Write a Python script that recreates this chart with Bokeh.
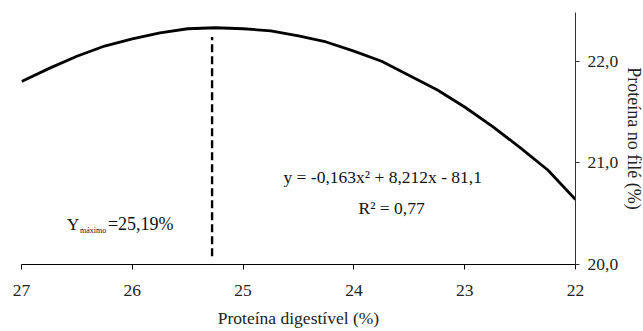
from bokeh.plotting import figure
from bokeh.models import Range1d, FixedTicker, Label
from bokeh.embed import file_html
from bokeh.resources import INLINE

# Data
x_dig = [27.0, 26.75, 26.5, 26.25, 26.0, 25.75, 25.5, 25.25, 25.0, 24.75, 24.5,
         24.25, 24.0, 23.75, 23.5, 23.25, 23.0, 22.75, 22.5, 22.25, 22.0]
y_file = [21.80, 21.93, 22.05, 22.15, 22.22, 22.28, 22.32, 22.33, 22.32, 22.30, 22.25,
          22.19, 22.10, 22.00, 21.86, 21.72, 21.55, 21.36, 21.15, 20.93, 20.64]
x_max = 25.28
y_dash = [20.08, 22.24]
x_ticks = [27, 26, 25, 24, 23, 22]
y_ticks = [20, 21, 22]
y_tick_labels = {20: "20,0", 21: "21,0", 22: "22,0"}
eq_text = "y = -0,163x\u00b2 + 8,212x - 81,1"
r2_text = "R\u00b2 = 0,77"

FONT = "Liberation Serif"

p = figure(frame_width=554, frame_height=252, output_backend="svg", toolbar_location=None,
           x_range=Range1d(27, 22), y_range=Range1d(20, 22.48),
           y_axis_location="right", min_border_left=21, min_border_top=12,
           min_border_bottom=0, min_border_right=0)
p.outline_line_color = None
p.xgrid.visible = False
p.ygrid.visible = False
p.background_fill_color = "white"

p.line(x_dig, y_file, line_color="black", line_width=2.8)
p.line([x_max, x_max], y_dash, line_color="black", line_width=2.4, line_dash="8 4")

# axes
xa = p.xaxis[0]
xa.ticker = FixedTicker(ticks=x_ticks)
xa.major_tick_out = 5
xa.major_tick_in = 0
xa.minor_tick_out = 0
xa.minor_tick_in = 0
xa.major_label_standoff = 15
xa.major_label_text_font = FONT
xa.major_label_text_font_size = "17.5px"
xa.major_label_text_color = "#222222"
xa.axis_line_color = "black"
xa.major_tick_line_color = "black"
xa.axis_label = "Proteína digestível (%)"
xa.axis_label_text_font = FONT
xa.axis_label_text_font_size = "17.5px"
xa.axis_label_text_font_style = "normal"
xa.axis_label_text_color = "#222222"
xa.axis_label_standoff = 9

ya = p.yaxis[0]
ya.ticker = FixedTicker(ticks=y_ticks)
ya.major_label_overrides = y_tick_labels
ya.major_tick_out = 4
ya.major_tick_in = 0
ya.minor_tick_out = 0
ya.minor_tick_in = 0
ya.major_label_standoff = 8
ya.major_label_text_font = FONT
ya.major_label_text_font_size = "17.5px"
ya.major_label_text_color = "#222222"
ya.axis_line_color = "#333333"
ya.major_tick_line_color = "#333333"
ya.axis_label = "Proteína no filé (%)"
ya.axis_label_text_font = FONT
ya.axis_label_text_font_size = "18px"
ya.axis_label_text_font_style = "normal"
ya.axis_label_text_color = "#222222"
ya.axis_label_standoff = 3

# annotations
p.add_layout(Label(x=23.74, y=20.76, text=eq_text, text_align="center",
                   text_font=FONT, text_font_size="17.5px", text_color="#111111"))
p.add_layout(Label(x=23.66, y=20.46, text=r2_text, text_align="center",
                   text_font=FONT, text_font_size="17.5px", text_color="#111111"))
p.add_layout(Label(x=26.59, y=20.30, text="Y", text_align="left",
                   text_font=FONT, text_font_size="17px", text_color="#111111"))
p.add_layout(Label(x=26.59, y=20.30, x_offset=13, y_offset=-1, text="máximo",
                   text_align="left", text_font=FONT, text_font_size="8px",
                   text_color="#111111"))
p.add_layout(Label(x=26.59, y=20.30, x_offset=41, text="=25,19%", text_align="left",
                   text_font=FONT, text_font_size="18px", text_color="#111111"))

open("out.html", "w").write(file_html(p, INLINE))
